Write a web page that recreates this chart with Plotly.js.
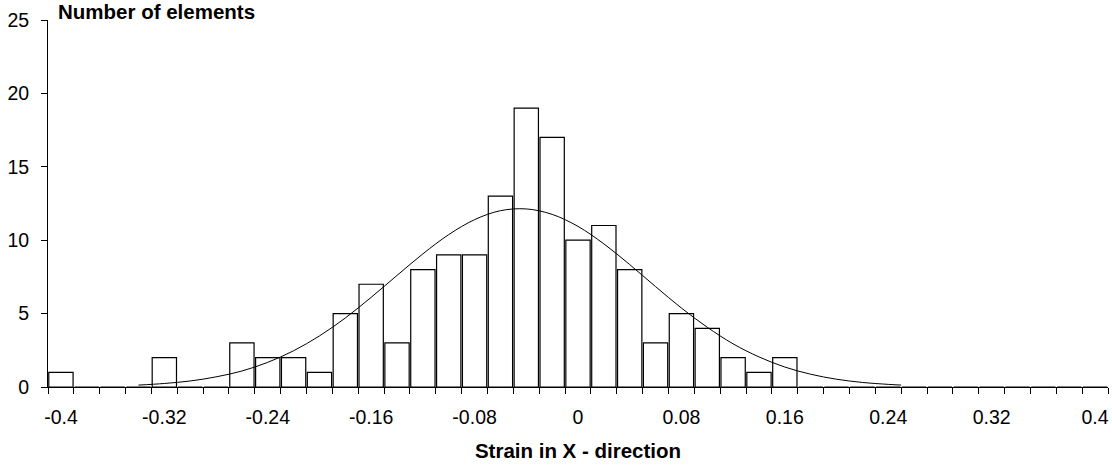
<!DOCTYPE html>
<html>
<head>
<meta charset="utf-8">
<script src="https://cdn.plot.ly/plotly-3.0.1.min.js"></script>
<style>
html,body{margin:0;padding:0;background:#fff;}
#chart{width:1112px;height:468px;}
</style>
</head>
<body>
<div id="chart"></div>
<script>
// Histogram bins (strain in X-direction) and counts
const binCenters = [-0.40,-0.38,-0.36,-0.34,-0.32,-0.30,-0.28,-0.26,-0.24,-0.22,-0.20,-0.18,-0.16,-0.14,-0.12,-0.10,-0.08,-0.06,-0.04,-0.02,0.00,0.02,0.04,0.06,0.08,0.10,0.12,0.14,0.16,0.18,0.20,0.22,0.24,0.26,0.28,0.30,0.32,0.34,0.36,0.38,0.40];
const counts     = [1,0,0,0,2,0,0,3,2,2,1,5,7,3,8,9,9,13,19,17,10,11,8,3,5,4,2,1,2,0,0,0,0,0,0,0,0,0,0,0,0];

// Fitted normal curve
const curveX = [-0.34,-0.32,-0.30,-0.28,-0.26,-0.24,-0.22,-0.20,-0.18,-0.16,-0.14,-0.12,-0.10,-0.08,-0.06,-0.04,-0.02,0.00,0.02,0.04,0.06,0.08,0.10,0.12,0.14,0.16,0.18,0.20,0.22,0.24,0.25];
const curveY = [0.13,0.24,0.41,0.69,1.09,1.68,2.47,3.48,4.70,6.11,7.60,9.07,10.38,11.40,12.01,12.13,11.76,10.94,9.75,8.34,6.84,5.38,4.07,2.94,2.05,1.36,0.87,0.53,0.31,0.18,0.13];

// Axis labels
const xTickVals = [-0.40,-0.32,-0.24,-0.16,-0.08,0,0.08,0.16,0.24,0.32,0.40];
const xTickText = ["-0.4","-0.32","-0.24","-0.16","-0.08","0","0.08","0.16","0.24","0.32","0.4"];
const yTickVals = [0,5,10,15,20,25];

const FONT = "Liberation Sans, Arial, sans-serif";

const traces = [
  {
    type: 'bar',
    x: binCenters,
    y: counts,
    width: 0.0188,
    marker: {color: '#ffffff', line: {color: '#000000', width: 1.2}},
    hoverinfo: 'x+y',
    showlegend: false
  },
  {
    type: 'scatter',
    mode: 'lines',
    x: curveX,
    y: curveY,
    line: {color: '#000000', width: 1, shape: 'spline', smoothing: 1},
    showlegend: false,
    hoverinfo: 'skip'
  }
];

const layout = {
  width: 1112,
  height: 468,
  margin: {l: 48, r: 4, t: 20, b: 81},
  paper_bgcolor: '#ffffff',
  plot_bgcolor: '#ffffff',
  bargap: 0,
  font: {family: FONT, color: '#000000', size: 19},
  xaxis: {
    range: [-0.41, 0.41],
    showgrid: false,
    zeroline: false,
    showline: true,
    linecolor: '#000000',
    linewidth: 1,
    tickmode: 'array',
    tickvals: xTickVals,
    ticktext: xTickText,
    ticks: '',
    ticklabelstandoff: 13,
    tickfont: {family: FONT, size: 19.5, color: '#000000'},
    minor: {tick0: -0.41, dtick: 0.02, ticks: 'outside', ticklen: 6, tickcolor: '#000000', tickwidth: 1, showgrid: false},
    title: {text: '<b>Strain in X - direction</b>', font: {family: FONT, size: 20.5, color: '#000000'}, standoff: 16},
    fixedrange: true
  },
  yaxis: {
    range: [0, 25],
    showgrid: false,
    zeroline: false,
    showline: true,
    linecolor: '#000000',
    linewidth: 1,
    tickmode: 'array',
    tickvals: yTickVals,
    ticks: 'outside',
    ticklen: 6,
    tickcolor: '#000000',
    tickfont: {family: FONT, size: 19.5, color: '#000000'},
    ticklabelstandoff: 8,
    fixedrange: true
  },
  annotations: [
    {
      text: '<b>Number of elements</b>',
      xref: 'paper', yref: 'paper',
      x: 0.0075, y: 1, xanchor: 'left', yanchor: 'middle',
      yshift: 9,
      showarrow: false,
      font: {family: FONT, size: 20.5, color: '#000000'}
    }
  ]
};

Plotly.newPlot('chart', traces, layout, {displayModeBar: false, staticPlot: true});
</script>
</body>
</html>
